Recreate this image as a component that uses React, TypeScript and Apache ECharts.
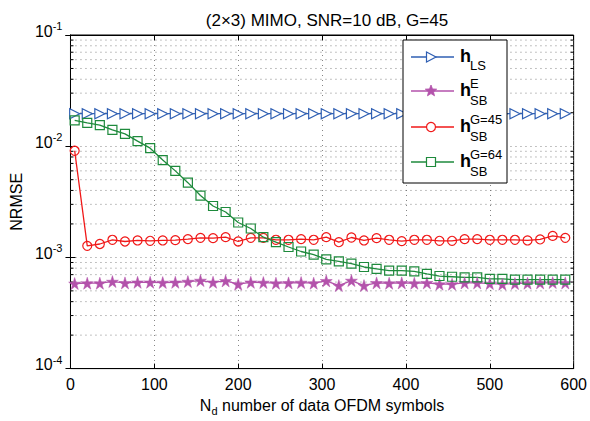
import React, { useEffect, useRef } from "react";
import * as echarts from "echarts";

const TITLE = "(2×3) MIMO, SNR=10 dB, G=45";
const X_NAME = "number of data OFDM symbols";
const Y_NAME = "NRMSE";

const ND = [5, 20, 35, 50, 65, 80, 95, 110, 125, 140, 155, 170, 185, 200, 215, 230, 245, 260, 275, 290,
  305, 320, 335, 350, 365, 380, 395, 410, 425, 440, 455, 470, 485, 500, 515, 530, 545, 560, 575, 590];

const H_LS = [0.0196, 0.0196, 0.0196, 0.0196, 0.0196, 0.0196, 0.0196, 0.0196, 0.0196, 0.0196,
  0.0196, 0.0196, 0.0196, 0.0196, 0.0196, 0.0196, 0.0196, 0.0196, 0.0196, 0.0196,
  0.0196, 0.0196, 0.0196, 0.0196, 0.0196, 0.0196, 0.0196, 0.0196, 0.0196, 0.0196,
  0.0196, 0.0196, 0.0196, 0.0196, 0.0196, 0.0196, 0.0196, 0.0196, 0.0196, 0.0196];

const H_SB_E = [0.000582, 0.000586, 0.000586, 0.000606, 0.00059, 0.000597, 0.000597, 0.000594, 0.000597, 0.000606,
  0.000619, 0.000597, 0.000615, 0.000574, 0.000597, 0.000594, 0.000586, 0.00059, 0.000594, 0.000586,
  0.000615, 0.000558, 0.000619, 0.000558, 0.00059, 0.000586, 0.00059, 0.000586, 0.00059, 0.000574,
  0.000574, 0.00059, 0.00059, 0.000582, 0.000574, 0.000582, 0.000586, 0.00059, 0.000594, 0.00059];

const H_SB_45 = [0.0091, 0.00127, 0.00132, 0.00144, 0.00139, 0.00142, 0.00141, 0.00142, 0.00143, 0.00146,
  0.0015, 0.00149, 0.00152, 0.00139, 0.0015, 0.0015, 0.00144, 0.00144, 0.00146, 0.00144,
  0.00152, 0.00137, 0.00151, 0.00142, 0.00149, 0.00144, 0.0014, 0.00144, 0.00144, 0.00141,
  0.00141, 0.00146, 0.00146, 0.00144, 0.00144, 0.00144, 0.00142, 0.00145, 0.00156, 0.0015];

const H_SB_64 = [0.0171, 0.0162, 0.0155, 0.014, 0.0129, 0.0111, 0.0096, 0.0075, 0.006, 0.0047,
  0.0036, 0.0029, 0.00256, 0.00206, 0.00182, 0.00152, 0.00137, 0.00124, 0.00113, 0.00106,
  0.00096, 0.00092, 0.00088, 0.00082, 0.00079, 0.00076, 0.00076, 0.00075, 0.00071, 0.00068,
  0.00067, 0.00066, 0.00066, 0.00064, 0.00064, 0.00063, 0.00063, 0.00063, 0.00063, 0.00063];

const MINOR_TICKS = [2e-4, 3e-4, 4e-4, 5e-4, 6e-4, 7e-4, 8e-4, 9e-4,
  2e-3, 3e-3, 4e-3, 5e-3, 6e-3, 7e-3, 8e-3, 9e-3,
  2e-2, 3e-2, 4e-2, 5e-2, 6e-2, 7e-2, 8e-2, 9e-2];

const FONT = "'Liberation Sans', Arial, Helvetica, sans-serif";
const C_BLUE = "#2F5FB3";
const C_MAG = "#B352AB";
const C_RED = "#F01818";
const C_GREEN = "#1E8A3C";
const GRID_C = "#666";
const STAR = "path://M50,0 L61,35 L98,35 L68,57 L79,91 L50,70 L21,91 L32,57 L2,35 L39,35 Z";

function starPoints(cx: number, cy: number, R: number, r: number) {
  const pts: number[][] = [];
  for (let i = 0; i < 10; i++) {
    const a = -Math.PI / 2 + (i * Math.PI) / 5;
    const rad = i % 2 === 0 ? R : r;
    pts.push([cx + rad * Math.cos(a), cy + rad * Math.sin(a)]);
  }
  return pts;
}

export default function App() {
  const ref = useRef<HTMLDivElement>(null);
  useEffect(() => {
    if (!ref.current) return;
    const chart = echarts.init(ref.current, undefined, { renderer: "svg" });
    const pair = (ys: number[]) => ND.map((x, i) => [x, ys[i]]);

    const legX0 = 411, legX1 = 454, legMx = 431;
    const rows = [57, 91, 127, 162];
    const lg: any[] = [
      { type: "rect", shape: { x: 403, y: 40, width: 104, height: 143 }, style: { fill: "#fff", stroke: "#000", lineWidth: 1 }, z: 100 },
    ];
    const colors = [C_BLUE, C_MAG, C_RED, C_GREEN];
    rows.forEach((y, i) => {
      lg.push({ type: "line", shape: { x1: legX0, y1: y, x2: legX1, y2: y }, style: { stroke: colors[i], lineWidth: 1.3 }, z: 101 });
    });
    lg.push({ type: "polygon", shape: { points: [[426.5, rows[0] - 5], [436, rows[0]], [426.5, rows[0] + 5]] }, style: { fill: "#fff", stroke: C_BLUE, lineWidth: 1.2 }, z: 102 });
    lg.push({ type: "polygon", shape: { points: starPoints(legMx, rows[1], 6, 2.6) }, style: { fill: C_MAG, stroke: C_MAG, lineWidth: 0.8 }, z: 102 });
    lg.push({ type: "circle", shape: { cx: legMx, cy: rows[2], r: 4.5 }, style: { fill: "#fff", stroke: C_RED, lineWidth: 1.2 }, z: 102 });
    lg.push({ type: "rect", shape: { x: legMx - 4.5, y: rows[3] - 4.5, width: 9, height: 9 }, style: { fill: "#fff", stroke: C_GREEN, lineWidth: 1.2 }, z: 102 });
    const hStyle = { fontFamily: FONT, fontSize: 18, fontWeight: "bold", fill: "#000", verticalAlign: "middle" };
    const sStyle = { fontFamily: FONT, fontSize: 13, fill: "#000", verticalAlign: "middle" };
    rows.forEach((y) => {
      lg.push({ type: "text", x: 460, y: y - 1, style: { ...hStyle, text: "h" }, z: 103 });
    });
    lg.push({ type: "text", x: 470, y: rows[0] + 8, style: { ...sStyle, text: "LS" }, z: 103 });
    lg.push({ type: "text", x: 470, y: rows[1] - 8, style: { ...sStyle, text: "E" }, z: 103 });
    lg.push({ type: "text", x: 470, y: rows[1] + 9, style: { ...sStyle, text: "SB" }, z: 103 });
    lg.push({ type: "text", x: 470, y: rows[2] - 8, style: { ...sStyle, text: "G=45" }, z: 103 });
    lg.push({ type: "text", x: 470, y: rows[2] + 9, style: { ...sStyle, text: "SB" }, z: 103 });
    lg.push({ type: "text", x: 470, y: rows[3] - 8, style: { ...sStyle, text: "G=64" }, z: 103 });
    lg.push({ type: "text", x: 470, y: rows[3] + 9, style: { ...sStyle, text: "SB" }, z: 103 });

    const dotted = { color: GRID_C, width: 0.8, type: [1, 4] as any };

    chart.setOption({
      animation: false,
      backgroundColor: "#fff",
      textStyle: { fontFamily: FONT },
      title: {
        text: TITLE,
        left: 322,
        textAlign: "center",
        top: 7,
        textStyle: { fontFamily: FONT, fontSize: 17, fontWeight: "normal", color: "#000" },
      },
      grid: { left: 65, right: 14, top: 35, bottom: 51, show: true, borderColor: "#000", borderWidth: 1 },
      xAxis: [
        {
          type: "value",
          min: 0,
          max: 600,
          interval: 100,
          name: `{n|N}{d|d}{n| ${X_NAME}}`,
          nameLocation: "middle",
          nameGap: 25,
          nameTextStyle: {
            rich: {
              n: { fontFamily: FONT, fontSize: 16, color: "#000" },
              d: { fontFamily: FONT, fontSize: 11, color: "#000", padding: [10, 0, 0, 0] },
            },
          },
          axisLine: { lineStyle: { color: "#000" } },
          axisTick: { inside: true, length: 5, lineStyle: { color: "#000" } },
          axisLabel: { fontFamily: FONT, fontSize: 16, color: "#000", margin: 8 },
          splitLine: { show: true, lineStyle: dotted },
        },
        {
          type: "value",
          position: "top",
          min: 0,
          max: 600,
          interval: 100,
          axisLine: { lineStyle: { color: "#000" } },
          axisTick: { inside: true, length: 5, lineStyle: { color: "#000" } },
          axisLabel: { show: false },
          splitLine: { show: false },
        },
      ],
      yAxis: [
        {
          type: "log",
          logBase: 10,
          min: 1e-4,
          max: 1e-1,
          name: Y_NAME,
          nameLocation: "middle",
          nameGap: 40,
          nameTextStyle: { fontFamily: FONT, fontSize: 16, color: "#000" },
          axisLine: { lineStyle: { color: "#000" } },
          axisTick: { inside: true, length: 5, lineStyle: { color: "#000" } },
          axisLabel: {
            margin: 8,
            formatter: (v: number) => `{b|10}{s|${Math.round(Math.log10(v))}}`,
            rich: {
              b: { fontFamily: FONT, fontSize: 16, color: "#000", padding: [0, 0, 8, 0] },
              s: { fontFamily: FONT, fontSize: 11, color: "#000", padding: [0, 0, 18, 0] },
            },
          },
          splitLine: { show: true, lineStyle: dotted },
        },
        {
          type: "log",
          logBase: 10,
          min: 1e-4,
          max: 1e-1,
          position: "right",
          axisLine: { lineStyle: { color: "#000" } },
          axisTick: { inside: true, length: 5, lineStyle: { color: "#000" } },
          axisLabel: { show: false },
          splitLine: { show: false },
        },
      ],
      graphic: lg,
      series: [
        {
          type: "custom",
          name: "minor",
          silent: true,
          z: 1,
          xAxisIndex: 0,
          yAxisIndex: 0,
          data: MINOR_TICKS.map((v) => [0, v]),
          encode: { x: 0, y: 1 },
          renderItem: (_p: any, api: any) => {
            const v = api.value(1);
            const a = api.coord([0, v]);
            const b = api.coord([600, v]);
            return {
              type: "group",
              children: [
                { type: "line", shape: { x1: a[0], y1: a[1], x2: b[0], y2: b[1] }, style: { stroke: GRID_C, lineWidth: 0.8, lineDash: [1, 4] } },
                { type: "line", shape: { x1: a[0], y1: a[1], x2: a[0] + 3, y2: a[1] }, style: { stroke: "#000", lineWidth: 1 } },
                { type: "line", shape: { x1: b[0] - 3, y1: b[1], x2: b[0], y2: b[1] }, style: { stroke: "#000", lineWidth: 1 } },
              ],
            };
          },
        },
        {
          type: "line",
          name: "h_LS",
          data: pair(H_LS),
          symbol: "triangle",
          symbolRotate: -90,
          symbolSize: 10,
          showAllSymbol: true,
          lineStyle: { color: C_BLUE, width: 1.3 },
          itemStyle: { color: "#fff", borderColor: C_BLUE, borderWidth: 1.2 },
          z: 3,
        },
        {
          type: "line",
          name: "h_SB^E",
          data: pair(H_SB_E),
          symbol: STAR,
          symbolSize: 12,
          showAllSymbol: true,
          lineStyle: { color: C_MAG, width: 1.3 },
          itemStyle: { color: C_MAG, borderColor: C_MAG, borderWidth: 0.5 },
          z: 3,
        },
        {
          type: "line",
          name: "h_SB^G=45",
          data: pair(H_SB_45),
          symbol: "circle",
          symbolSize: 9,
          showAllSymbol: true,
          lineStyle: { color: C_RED, width: 1.3 },
          itemStyle: { color: "transparent", borderColor: C_RED, borderWidth: 1.2 },
          z: 3,
        },
        {
          type: "line",
          name: "h_SB^G=64",
          data: pair(H_SB_64),
          symbol: "rect",
          symbolSize: 9,
          showAllSymbol: true,
          lineStyle: { color: C_GREEN, width: 1.3 },
          itemStyle: { color: "transparent", borderColor: C_GREEN, borderWidth: 1.2 },
          z: 3,
        },
      ],
    });
    return () => chart.dispose();
  }, []);
  return <div ref={ref} style={{ width: 590, height: 421, position: "absolute", left: 0, top: 0 }} />;
}
